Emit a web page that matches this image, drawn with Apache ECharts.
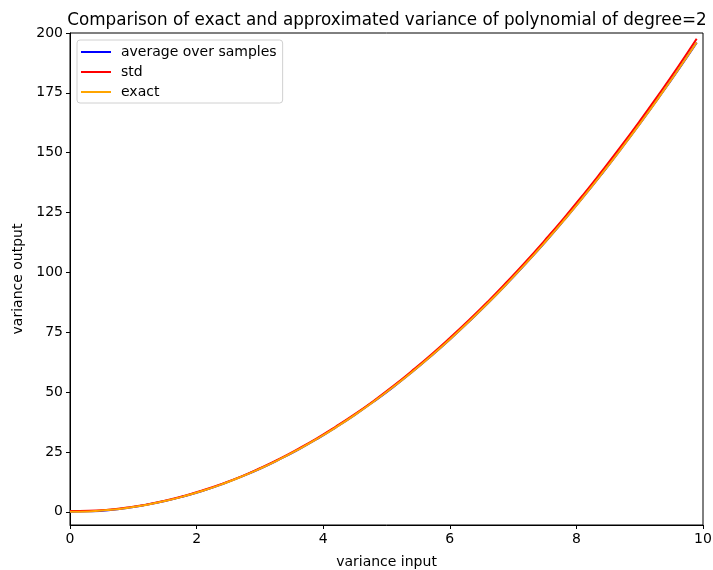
<!DOCTYPE html>
<html>
<head>
<meta charset="utf-8">
<script src="https://cdn.jsdelivr.net/npm/echarts@6/dist/echarts.min.js"></script>
<style>
  html, body { margin: 0; padding: 0; background: #fff; }
  #chart { width: 713px; height: 570px; }
</style>
</head>
<body>
<div id="chart"></div>
<script>
// Input variance values (x axis)
const varianceInput = [0, 0.3, 0.6, 0.9, 1.2, 1.5, 1.8, 2.1, 2.4, 2.7, 3.0, 3.3, 3.6, 3.9, 4.2, 4.5, 4.8,
  5.1, 5.4, 5.7, 6.0, 6.3, 6.6, 6.9, 7.2, 7.5, 7.8, 8.1, 8.4, 8.7, 9.0, 9.3, 9.6, 9.9];

// Average over samples
const averageOverSamples = [0, 0.2, 0.7, 1.6, 2.9, 4.5, 6.5, 8.8, 11.5, 14.6, 18.0, 21.8, 25.9, 30.4,
  35.3, 40.5, 46.1, 52.0, 58.3, 65.0, 72.0, 79.4, 87.1, 95.2, 103.7, 112.5, 121.7, 131.2, 141.1,
  151.4, 162.0, 173.0, 184.3, 196.0];

// Sample std estimate
const stdValues = [0.3, 0.4, 0.9, 1.8, 3.0, 4.6, 6.6, 9.0, 11.7, 14.7, 18.2, 22.0, 26.2, 30.7, 35.6,
  40.8, 46.4, 52.4, 58.8, 65.5, 72.6, 80.0, 87.8, 96.0, 104.5, 113.4, 122.6, 132.2, 142.2, 152.5,
  163.2, 174.3, 185.7, 197.6];

// Exact variance
const exactValues = [0, 0.18, 0.72, 1.62, 2.88, 4.5, 6.48, 8.82, 11.52, 14.58, 18, 21.78, 25.92,
  30.42, 35.28, 40.5, 46.08, 52.02, 58.32, 64.98, 72, 79.38, 87.12, 95.22, 103.68, 112.5, 121.68,
  131.22, 141.12, 151.38, 162, 172.98, 184.32, 196.02];

const yTicks = [0, 25, 50, 75, 100, 125, 150, 175, 200];

const pairs = (ys) => varianceInput.map((x, i) => [x, ys[i]]);
const font = 'DejaVu Sans';

const chart = echarts.init(document.getElementById('chart'), null, { renderer: 'canvas' });
chart.setOption({
  animation: false,
  backgroundColor: '#fff',
  title: {
    text: 'Comparison of exact and approximated variance of polynomial of degree=2',
    left: 382, top: 7, textAlign: 'center',
    textStyle: { fontFamily: font, fontSize: 16.8, fontWeight: 'normal', color: '#000' }
  },
  legend: {
    orient: 'vertical', left: 77, top: 40,
    backgroundColor: '#fff', borderColor: '#d0d0d0', borderWidth: 1, borderRadius: 3,
    padding: [5, 6, 4, 4], itemGap: 6,
    icon: 'rect', itemWidth: 30, itemHeight: 2,
    textStyle: { fontFamily: font, fontSize: 14, color: '#000', padding: [0, 0, 0, 5] },
    data: ['average over samples', 'std', 'exact']
  },
  grid: {
    left: 70, right: 10, top: 33, bottom: 45,
    outerBoundsMode: 'none', containLabel: false,
    show: true, borderColor: '#000', borderWidth: 1, backgroundColor: 'transparent'
  },
  xAxis: {
    type: 'value', min: 0, max: 10, interval: 2,
    name: 'variance input', nameLocation: 'middle', nameGap: 30,
    nameTextStyle: { fontFamily: font, fontSize: 14, color: '#000' },
    axisLine: { show: true, onZero: false, lineStyle: { color: '#000', width: 1 } },
    axisTick: { show: true, length: 4, lineStyle: { color: '#000' } },
    axisLabel: { fontFamily: font, fontSize: 14, color: '#000', margin: 7 },
    splitLine: { show: false }
  },
  yAxis: {
    type: 'value', min: -5.5, max: 200,
    name: 'variance output', nameLocation: 'middle', nameGap: 45, nameRotate: 90,
    nameTextStyle: { fontFamily: font, fontSize: 14, color: '#000' },
    axisLine: { show: true, onZero: false, lineStyle: { color: '#000', width: 1 } },
    axisTick: { show: true, length: 4, lineStyle: { color: '#000' }, customValues: yTicks },
    axisLabel: { fontFamily: font, fontSize: 14, color: '#000', margin: 7, customValues: yTicks },
    splitLine: { show: false }
  },
  series: [
    { name: 'average over samples', type: 'line', data: pairs(averageOverSamples), smooth: true,
      showSymbol: false, symbol: 'none', color: '#0000ff', lineStyle: { width: 2, color: '#0000ff' } },
    { name: 'std', type: 'line', data: pairs(stdValues), smooth: true,
      showSymbol: false, symbol: 'none', color: '#ff0000', lineStyle: { width: 2, color: '#ff0000' } },
    { name: 'exact', type: 'line', data: pairs(exactValues), smooth: true,
      showSymbol: false, symbol: 'none', color: '#ffa500', lineStyle: { width: 2, color: '#ffa500' } }
  ]
});
</script>
</body>
</html>
